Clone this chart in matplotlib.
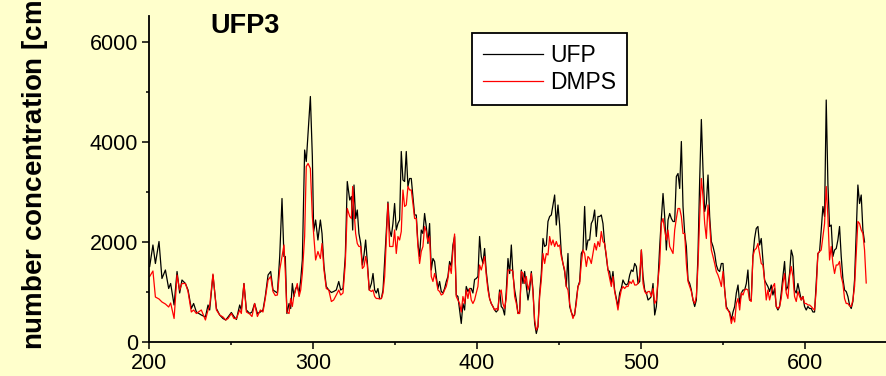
import numpy as np
import matplotlib
matplotlib.use("Agg")
import matplotlib.pyplot as plt
from matplotlib.ticker import MultipleLocator

plt.rcParams["font.family"] = ["Liberation Sans", "DejaVu Sans"]

BG = "#FFFFCC"

# ----------------------------------------------------------------------
# data (UFP = black, DMPS = red)
# ----------------------------------------------------------------------
x_a = [200.4, 202.4, 203.9, 206.1, 207.9, 210.0, 212.0, 213.2, 215.3, 217.1,
       218.7, 220.1, 222.2, 223.8, 225.8, 227.2, 228.9, 231.9, 234.4, 236.0,
       237.0, 239.0, 241.1, 243.1, 245.1, 246.8, 248.2, 250.2, 251.8, 253.3,
       255.3, 256.3, 257.9, 259.4, 261.4, 262.8, 264.4, 266.1, 267.9, 269.5,
       270.9, 272.6]
ufp_a = [1510, 1940, 1570, 2010, 1270, 1440, 1070, 1170, 740, 1410,
         980, 1240, 1170, 1040, 670, 770, 600, 540, 500, 740,
         640, 1340, 670, 540, 470, 440, 500, 590, 510, 450,
         740, 640, 1170, 640, 570, 600, 770, 570, 600, 640,
         910, 1340]
dmps_a = [1310, 1420, 900, 860, 800, 760, 700, 780, 470, 1340,
          1040, 1170, 1170, 1010, 600, 640, 570, 640, 440, 640,
          720, 1360, 640, 540, 500, 440, 470, 570, 470, 470,
          640, 570, 1170, 600, 560, 510, 770, 510, 640, 600,
          870, 1240]

x_b = [274.2, 275.6, 277.0, 278.3, 279.7, 281.1, 282.3, 283.1, 284.1, 285.4,
       286.4, 287.4, 288.4, 289.4, 290.4, 291.5, 292.5, 293.5, 294.9, 295.9,
       297.0, 298.4, 299.6, 300.4, 301.6, 303.0, 304.5, 305.5, 306.7, 308.1,
       309.6, 311.2, 312.6, 314.2, 315.7, 316.9, 318.3, 319.7, 320.9, 322.4,
       323.4, 324.2, 325.0, 326.0, 327.0, 328.0, 329.1, 330.1, 331.1, 332.1,
       333.1, 334.3, 335.6, 336.6, 337.6, 338.6, 339.6, 340.6, 341.7, 342.7,
       343.7]
ufp_b = [1410, 1040, 1010, 980, 1710, 2870, 1710, 1710, 570, 770,
         670, 1170, 910, 1070, 1110, 980, 1240, 1640, 3840, 3610,
         4170, 4910, 3710, 2210, 2440, 2040, 2440, 2170, 1510, 1110,
         1040, 990, 1010, 1040, 1210, 1040, 1070, 1710, 3210, 2840,
         2910, 2240, 3140, 2470, 2640, 2170, 1970, 1540, 1740, 2040,
         1610, 1040, 1170, 1370, 1040, 980, 1070, 870, 870, 1040,
         1640]
dmps_b = [1310, 1010, 930, 940, 1440, 1710, 1940, 1410, 600, 570,
          870, 710, 940, 1040, 1170, 910, 1040, 1370, 2110, 3510,
          3570, 3470, 2510, 2170, 1640, 1810, 1670, 1970, 1440, 1070,
          1040, 810, 840, 940, 1040, 940, 980, 1570, 2670, 2510,
          2470, 3110, 2640, 2170, 1970, 1910, 1910, 1470, 1510, 1710,
          1540, 1040, 1010, 1040, 910, 870, 870, 860, 870, 980,
          1310]

# evenly sampled stretches (start, spacing ~1 unit)
start_c, start_d, start_e, start_f = 345.7, 418.9, 492.1, 565.2
ufp_c = [2800, 2240, 2110, 2370, 2770, 2240, 2370, 2440, 3810, 3240,
         3210, 3810, 3110, 3270, 3270, 2910, 2540, 2540, 1970, 1710,
         2240, 2170, 2570, 2310, 1970, 2370, 1440, 1670, 1610, 1310,
         1070, 1210, 1010, 980, 1070, 1210, 1310, 1610, 1510, 1940,
         2110, 940, 910, 640, 370, 770, 640, 1110, 1010, 1070,
         1070, 980, 1250, 1270, 1310, 2110, 1710, 1570, 1870, 1410,
         1110, 870, 770, 710, 640, 600, 640, 1040, 710, 670,
         540, 1010]
dmps_c = [2770, 1910, 1910, 1910, 2240, 1770, 2110, 2040, 2210, 3040,
          2710, 2740, 3110, 3040, 3040, 2770, 2470, 2470, 1910, 1570,
          1810, 1910, 2310, 2210, 2010, 2110, 1310, 1210, 1370, 1240,
          1040, 1010, 940, 960, 1040, 1110, 1270, 1540, 1370, 1840,
          2160, 910, 840, 770, 600, 910, 770, 1040, 870, 1070,
          840, 770, 840, 980, 1110, 1540, 1440, 1570, 1710, 1340,
          1040, 870, 770, 710, 640, 670, 640, 980, 1040, 770,
          670, 870]
ufp_d = [1670, 1370, 1940, 1340, 1040, 840, 570, 600, 1440, 1170,
         1410, 1110, 840, 1040, 1410, 1040, 370, 170, 310, 980,
         1370, 2070, 1910, 1940, 2410, 2510, 2540, 2740, 2940, 2340,
         2740, 2340, 1770, 1570, 1410, 1110, 1770, 710, 600, 510,
         540, 840, 1110, 1210, 1770, 1840, 2710, 1840, 2040, 2040,
         2370, 2440, 2640, 2110, 2510, 2510, 2540, 2370, 1970, 1710,
         1440, 1410, 1170, 1410, 1040, 870, 710, 980, 1070, 1240,
         1170, 1140]
dmps_d = [1440, 1440, 1440, 1410, 910, 770, 570, 570, 1410, 1370,
          1170, 1310, 1040, 1170, 1370, 980, 440, 240, 310, 910,
          1240, 1770, 1570, 1770, 1740, 2110, 1940, 2040, 1910, 2010,
          1910, 1940, 1710, 1570, 1440, 1110, 1040, 770, 600, 470,
          570, 770, 1110, 1170, 1570, 1840, 1770, 1510, 1710, 1670,
          1570, 1770, 1970, 1840, 2010, 1910, 2210, 2010, 1970, 1740,
          1440, 1270, 1110, 1310, 1010, 840, 640, 870, 1040, 1110,
          1070, 1110]
ufp_e = [1170, 1340, 1440, 1410, 1570, 1510, 1170, 1210, 1840, 1310,
         1040, 980, 840, 870, 910, 1170, 540, 710, 1240, 1910,
         2470, 2970, 2510, 1840, 2440, 2570, 2470, 2410, 2410, 3310,
         3370, 3070, 4010, 2710, 2170, 1910, 1240, 1170, 1040, 840,
         710, 840, 1770, 3240, 4450, 3440, 2610, 2770, 3340, 2510,
         2010, 1910, 1770, 1540, 1440, 1410, 1570, 1570, 1040, 710,
         640, 600, 440, 600, 710, 980, 1140, 770, 980, 1040,
         1040, 1170]
dmps_e = [1110, 1210, 1170, 1240, 1140, 1140, 1170, 1340, 1840, 1170,
          1010, 960, 1010, 1010, 910, 1070, 770, 840, 1240, 1570,
          2370, 2470, 2240, 2040, 2240, 1910, 1840, 1770, 2240, 2470,
          2670, 2670, 2510, 2170, 2170, 1570, 1210, 1110, 1010, 840,
          770, 910, 1540, 2510, 3270, 2910, 2370, 2070, 2740, 2370,
          1840, 1710, 1570, 1410, 1340, 1240, 1110, 1410, 1040, 670,
          640, 570, 370, 510, 400, 770, 870, 640, 980, 940,
          1040, 1060]
ufp_f = [1440, 840, 840, 1710, 2070, 2270, 2310, 1940, 2070, 1640,
         1240, 1170, 1110, 1010, 1140, 940, 1070, 710, 640, 710,
         980, 1310, 1610, 1040, 1110, 1370, 1840, 1710, 1040, 980,
         1170, 1010, 840, 910, 710, 640, 710, 670, 670, 600,
         600, 1170, 1770, 1810, 2240, 2710, 2510, 4840, 3170, 2310,
         2340, 1710, 1840, 1870, 2040, 2310, 1710, 1270, 1040, 1010,
         910, 740, 670, 810, 1240, 2170, 3140, 2770, 2940, 2240,
         2000]
dmps_f = [1040, 840, 810, 1710, 1840, 1870, 1970, 1770, 1570, 1540,
          1240, 840, 1040, 840, 980, 1110, 1170, 710, 670, 710,
          870, 1170, 1370, 980, 870, 1310, 1510, 1310, 910, 810,
          1010, 910, 840, 910, 770, 770, 740, 740, 710, 670,
          640, 1040, 1770, 1810, 1840, 2110, 2370, 3110, 2510, 1640,
          1910, 1570, 1370, 1540, 1540, 1610, 1310, 1170, 870, 770,
          770, 720, 710, 840, 1110, 1770, 2410, 2370, 2240, 2170,
          1840, 1180]
STEP = 1.016

# ----------------------------------------------------------------------
def stretch(start, n):
    return list(start + STEP * np.arange(n))

x_ufp = (x_a + x_b + stretch(start_c, len(ufp_c)) + stretch(start_d, len(ufp_d))
         + stretch(start_e, len(ufp_e)) + stretch(start_f, len(ufp_f)))
y_ufp = ufp_a + ufp_b + ufp_c + ufp_d + ufp_e + ufp_f
x_dmps = (x_a + x_b + stretch(start_c, len(dmps_c)) + stretch(start_d, len(dmps_d))
          + stretch(start_e, len(dmps_e)) + stretch(start_f, len(dmps_f)))
y_dmps = dmps_a + dmps_b + dmps_c + dmps_d + dmps_e + dmps_f

fig = plt.figure(figsize=(8.86, 3.76), dpi=100, facecolor=BG)
ax = fig.add_axes([149 / 886, 1 - 342 / 376, 1 - 149 / 886, (342 - 16) / 376])
ax.set_facecolor(BG)

ax.plot(x_ufp, y_ufp, color="black", lw=0.9, label="UFP")
ax.plot(x_dmps, y_dmps, color="red", lw=0.9, label="DMPS")

ax.set_xlim(200, 649.4)
ax.set_ylim(0, 6520)
ax.xaxis.set_major_locator(MultipleLocator(100))
ax.xaxis.set_minor_locator(MultipleLocator(50))
ax.yaxis.set_major_locator(MultipleLocator(2000))
ax.yaxis.set_minor_locator(MultipleLocator(1000))
for s in ("top", "right"):
    ax.spines[s].set_visible(False)
for s in ("left", "bottom"):
    ax.spines[s].set_linewidth(1.3)
ax.tick_params(which="major", direction="out", length=5, width=1.1,
               labelsize=15.5, pad=3)
ax.tick_params(which="minor", direction="out", length=2.5, width=1.1)

ax.text(210 / 886, 1 - 26 / 376, "UFP3", transform=fig.transFigure,
        fontsize=19.5, fontweight="bold", ha="left", va="center")

fig.text(33 / 886, 1 - 350 / 376, "number concentration [cm$^{-3}$]",
         rotation=90, ha="center", va="bottom", fontsize=20,
         fontweight="bold")

leg = ax.legend(loc="upper left", bbox_to_anchor=(472 / 886, 1 - 33 / 376),
                bbox_transform=fig.transFigure, borderaxespad=0,
                fancybox=False, framealpha=1, edgecolor="black",
                fontsize=16.5, handlelength=2.6, handletextpad=0.3,
                borderpad=0.5, labelspacing=0.15)
leg.get_frame().set_linewidth(1.3)

fig.savefig("out.png", dpi=100, facecolor=BG)
